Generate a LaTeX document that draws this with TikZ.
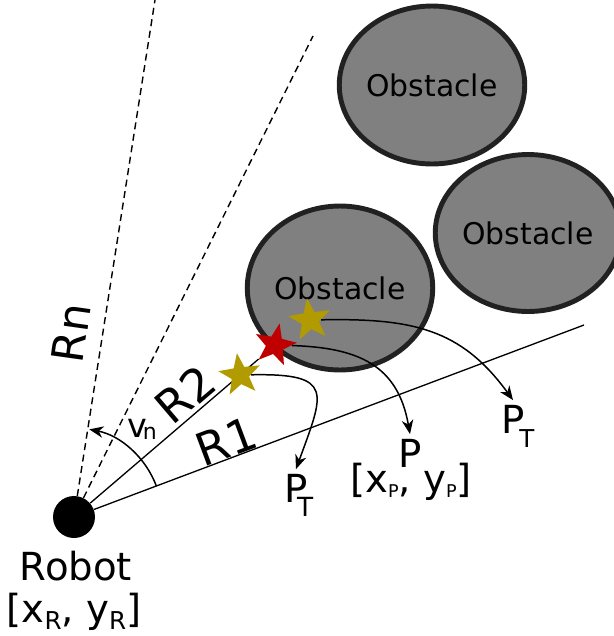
\documentclass[tikz,border=0pt]{standalone}
\usepackage{fontspec}
\setmainfont{DejaVu Sans}
\usetikzlibrary{shapes.geometric,arrows.meta,calc,backgrounds}
\definecolor{stargold}{RGB}{178,155,0}
\definecolor{starred}{RGB}{192,0,0}
\newcommand{\lowsub}[3]{\raisebox{-#1}{\fontsize{#2}{#2}\selectfont #3}}
\begin{document}
\begin{tikzpicture}[x=0.02cm, y=0.02cm,
    obstacle/.style={ellipse,draw=black!87,line width=2.8pt,fill=gray,inner sep=0pt,font=\fontsize{17}{17}\selectfont},
    bot/.style={circle,fill=black,minimum size=0.84cm,inner sep=0pt},
    hit/.style={star,star points=5,star point ratio=2.4,minimum size=0.88cm,inner sep=0pt},
    ray/.style={line width=0.75pt},
    scan/.style={line width=0.8pt,dash pattern=on 4pt off 2.6pt},
    arr/.style={line width=0.85pt,-{Stealth[length=8pt,width=6.5pt,inset=2.5pt]}},
    lbl/.style={inner sep=2.5pt,font=\fontsize{22}{22}\selectfont},
    rlbl/.style={inner sep=0pt,font=\fontsize{26}{26}\selectfont}
]
\useasboundingbox (0,0) rectangle (614,-636);
\node[bot] (robot) at (74,-517) {};
\coordinate (r1end) at (584,-325);
\coordinate (scan2) at (313,-36);
\coordinate (scann) at (155,0);
\draw[scan] (robot) -- (scann);
\draw[scan] (robot) -- (scan2);
\draw[ray] (robot) -- (r1end);
\node[obstacle,minimum width=3.5cm,minimum height=3.16cm] (obs1) at (432,-85) {Obstacle};
\node[obstacle,minimum width=3.44cm,minimum height=3.14cm] (obs2) at (528,-233) {Obstacle};
\node[obstacle,minimum width=3.64cm,minimum height=3.28cm] (obs3) at (340,-288) {Obstacle};
\node[hit,fill=stargold,rotate=8] (hit1) at (240,-375) {};
\node[hit,fill=starred,rotate=-12] (hit2) at (275,-345) {};
\node[hit,fill=stargold,rotate=8] (hit3) at (310,-320) {};
\begin{scope}[on background layer]
\draw[ray] (robot) -- (hit2);
\end{scope}
\draw[arr] ($(robot)+(20.5:88)$) arc[start angle=20.5,end angle=79,radius=90];
\node[rlbl,rotate=82,font=\fontsize{25}{25}\selectfont] (rn) at (71,-333) {Rn};
\node[rlbl,rotate=40.4] (r2) at (185,-394) {R2};
\node[rlbl,rotate=20.5] (r1) at (226,-441) {R1};
\node[anchor=base,inner sep=0pt,font=\fontsize{19}{19}\selectfont] (vn) at (142,-437) {v\kern-2.3pt\lowsub{1.7pt}{12.5}{n}};
\node[lbl,anchor=base] (pt1) at (296,-502) {P\rlap{\kern-6pt\lowsub{8.5pt}{15}{T}}};
\node[lbl,anchor=base] (p) at (410,-467) {P};
\node[lbl,anchor=base] (pxy) at (411,-492) {[x\lowsub{3.4pt}{10}{P}, y\lowsub{3.4pt}{10}{P}]};
\node[lbl,anchor=base] (pt2) at (513,-433) {P\rlap{\kern-3pt\lowsub{8.5pt}{14}{T}}};
\node[lbl,anchor=base] (robotlbl) at (76,-580) {Robot};
\node[lbl,anchor=base] (robotxy) at (74,-622) {[x\lowsub{4.5pt}{14}{R}, y\lowsub{4.5pt}{14}{R}]};
\draw[arr] (hit1) to[out=0,in=70,looseness=2] (pt1.north);
\draw[arr] (hit2) to[out=0,in=100,looseness=1.2] (p.north);
\draw[arr] (hit3) to[out=0,in=126,looseness=1.1] (pt2.north);
\end{tikzpicture}
\end{document}
